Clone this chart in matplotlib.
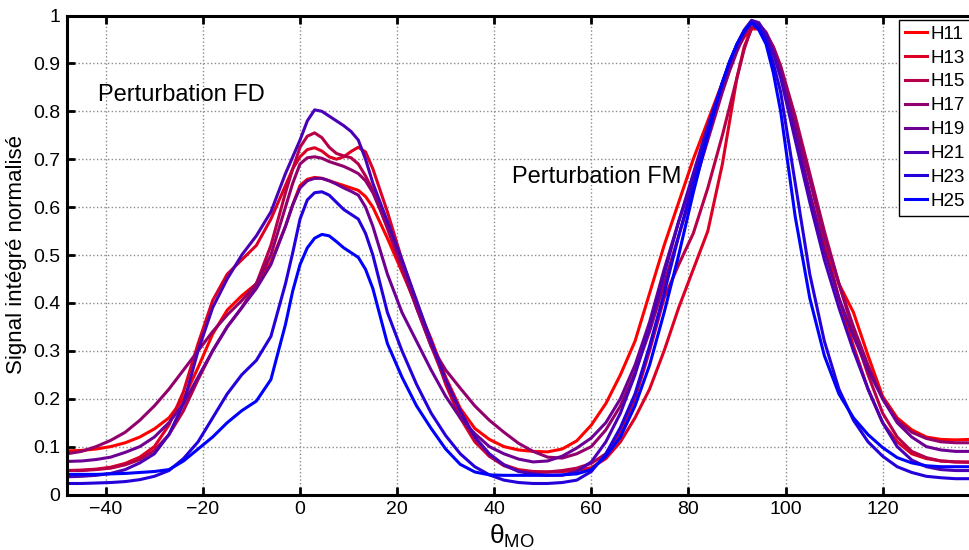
import matplotlib
matplotlib.use('Agg')
import matplotlib.pyplot as plt

plt.rcParams['font.family'] = 'Liberation Sans'
plt.rcParams['mathtext.fontset'] = 'custom'
plt.rcParams['mathtext.rm'] = 'Liberation Sans'
plt.rcParams['mathtext.it'] = 'Liberation Sans'

# angle samples (finer around the two peaks)
theta = [-48, -45, -42, -39, -36, -33, -30, -27, -24, -21, -18, -15, -12, -9, -6,
         -3, -1.5, 0, 1.5, 3, 4.5, 6, 7.5, 9, 10.5, 12, 13.5, 15,
         18, 21, 24, 27, 30, 33, 36, 39, 42, 45, 48, 51, 54, 57, 60, 63, 66, 69,
         72, 75, 78, 81, 84,
         87, 88.5, 90, 91.5, 93, 94.5, 96, 97.5, 99,
         102, 105, 108, 111, 114, 117, 120, 123, 126, 129, 132, 135, 138]

h11 = [.091, .092, .095, .100, .108, .120, .137, .160, .200, .265, .335, .385, .415, .440, .485,
       .560, .605, .645, .658, .662, .660, .655, .650, .645, .640, .635, .622, .600,
       .535, .465, .395, .325, .245, .180, .138, .115, .100, .093, .090, .089, .095, .112,
       .145, .190, .250, .320, .420, .520, .610, .700, .780,
       .860, .900, .930, .955, .972, .972, .955, .928, .890,
       .780, .660, .540, .440, .380, .290, .205, .160, .135, .120, .115, .114, .115]
h13 = [.050, .051, .053, .057, .065, .078, .100, .145, .215, .315, .405, .460, .490, .520, .575,
       .645, .680, .705, .720, .724, .717, .705, .700, .705, .716, .725, .715, .680,
       .590, .490, .400, .320, .230, .160, .110, .080, .062, .052, .048, .047, .048, .050,
       .056, .075, .110, .160, .220, .300, .390, .470, .550,
       .690, .780, .870, .935, .972, .978, .960, .932, .890,
       .780, .660, .530, .410, .310, .220, .150, .110, .085, .075, .070, .068, .068]
h15 = [.050, .050, .052, .055, .062, .073, .092, .125, .175, .240, .300, .350, .390, .440, .520,
       .630, .680, .725, .748, .755, .745, .725, .712, .707, .703, .690, .665, .635,
       .555, .470, .390, .310, .235, .165, .115, .080, .060, .050, .047, .047, .050, .055,
       .065, .085, .130, .200, .300, .410, .480, .545, .640,
       .750, .810, .870, .930, .975, .982, .962, .935, .895,
       .790, .670, .550, .440, .340, .250, .170, .120, .090, .077, .070, .068, .067]
h17 = [.085, .090, .100, .113, .130, .155, .185, .220, .260, .300, .340, .375, .405, .440, .500,
       .600, .650, .690, .703, .705, .702, .695, .690, .685, .678, .670, .655, .630,
       .560, .480, .390, .310, .260, .222, .185, .155, .130, .107, .090, .078, .076, .085,
       .100, .135, .185, .255, .340, .440, .540, .640, .740,
       .840, .885, .925, .960, .985, .982, .965, .932, .890,
       .780, .660, .540, .440, .350, .270, .200, .155, .130, .117, .110, .108, .108]
h19 = [.069, .070, .073, .078, .088, .100, .120, .150, .190, .245, .300, .350, .390, .430, .480,
       .560, .605, .640, .655, .660, .660, .655, .648, .640, .633, .625, .600, .560,
       .460, .380, .320, .260, .205, .160, .127, .100, .085, .074, .068, .070, .080, .097,
       .118, .150, .200, .270, .360, .470, .570, .660, .760,
       .850, .895, .930, .962, .985, .982, .960, .925, .880,
       .760, .630, .510, .410, .330, .260, .200, .150, .120, .100, .093, .090, .090]
h21 = [.037, .038, .040, .044, .052, .066, .085, .125, .190, .300, .390, .450, .500, .540, .590,
       .670, .705, .740, .780, .803, .800, .790, .780, .770, .758, .740, .700, .650,
       .570, .490, .405, .320, .240, .175, .120, .085, .062, .048, .043, .040, .040, .048,
       .068, .110, .170, .250, .350, .460, .570, .670, .770,
       .860, .902, .940, .970, .990, .985, .960, .920, .870,
       .740, .610, .490, .390, .300, .220, .150, .100, .072, .058, .052, .050, .050]
h23 = [.023, .023, .024, .025, .027, .031, .038, .050, .075, .110, .160, .210, .250, .280, .330,
       .440, .505, .575, .615, .630, .632, .625, .610, .595, .585, .575, .545, .500,
       .380, .300, .230, .170, .123, .085, .058, .041, .030, .025, .023, .023, .025, .030,
       .048, .085, .140, .210, .310, .420, .540, .650, .760,
       .860, .903, .940, .968, .985, .978, .950, .900, .840,
       .650, .460, .320, .220, .155, .110, .080, .058, .046, .038, .035, .033, .033]
h25 = [.042, .042, .042, .043, .044, .046, .048, .052, .070, .095, .120, .150, .175, .195, .240,
       .355, .425, .480, .515, .535, .543, .540, .528, .515, .505, .495, .470, .430,
       .315, .245, .185, .138, .095, .063, .047, .041, .040, .040, .040, .040, .041, .043,
       .052, .080, .120, .185, .270, .380, .500, .630, .750,
       .860, .905, .940, .968, .985, .970, .940, .880, .800,
       .580, .410, .290, .210, .160, .125, .098, .077, .066, .060, .058, .058, .058]

labels = ['H11', 'H13', 'H15', 'H17', 'H19', 'H21', 'H23', 'H25']
series = [h11, h13, h15, h17, h19, h21, h23, h25]
yticklabels = ['0', '0.1', '0.2', '0.3', '0.4', '0.5', '0.6', '0.7', '0.8', '0.9', '1']

fig = plt.figure(figsize=(9.69, 5.5), dpi=100)
# axes run past the right edge of the picture, as in the cropped original
ax = fig.add_axes([67/969, 55.5/550, 912.7/969, 479/550])

for i in range(len(series)):
    c = (1 - i/7, 0, i/7)
    ax.plot(theta, series[i], color=c, lw=2.2, label=labels[i],
            solid_joinstyle='round')

ax.set_xlim(-48, 140)
ax.set_ylim(0, 1)
ax.set_xticks([-40, -20, 0, 20, 40, 60, 80, 100, 120])
ax.set_yticks([i/10 for i in range(11)])
ax.set_yticklabels(yticklabels)
ax.tick_params(direction='in', length=6, width=2, top=True, right=True,
               labelsize=14, pad=5)
for s in ax.spines.values():
    s.set_linewidth(2.2)
ax.grid(True, linestyle=':', color='0.55', linewidth=1)

ax.set_ylabel('Signal intégré normalisé', fontsize=16, labelpad=4)
ax.set_xlabel(r'$\theta_{\rm MO}$', fontsize=19, labelpad=0)
ax.xaxis.set_label_coords((512-67)/912.7, -0.06)

ax.text(-41.6, 0.834, 'Perturbation FD', fontsize=17, va='center', ha='left')
ax.text(78.5, 0.663, 'Perturbation FM', fontsize=17, va='center', ha='right')

leg = ax.legend(loc='upper left', bbox_to_anchor=(899/969, 1 - 20/550),
                bbox_transform=fig.transFigure, fontsize=13.5, frameon=True,
                fancybox=False, borderaxespad=0, borderpad=0.3,
                handlelength=1.2, handletextpad=0.2, labelspacing=0.36)
leg.get_frame().set_edgecolor('black')
leg.get_frame().set_linewidth(1)
leg.get_frame().set_alpha(1)

fig.savefig('out.png', dpi=100)
